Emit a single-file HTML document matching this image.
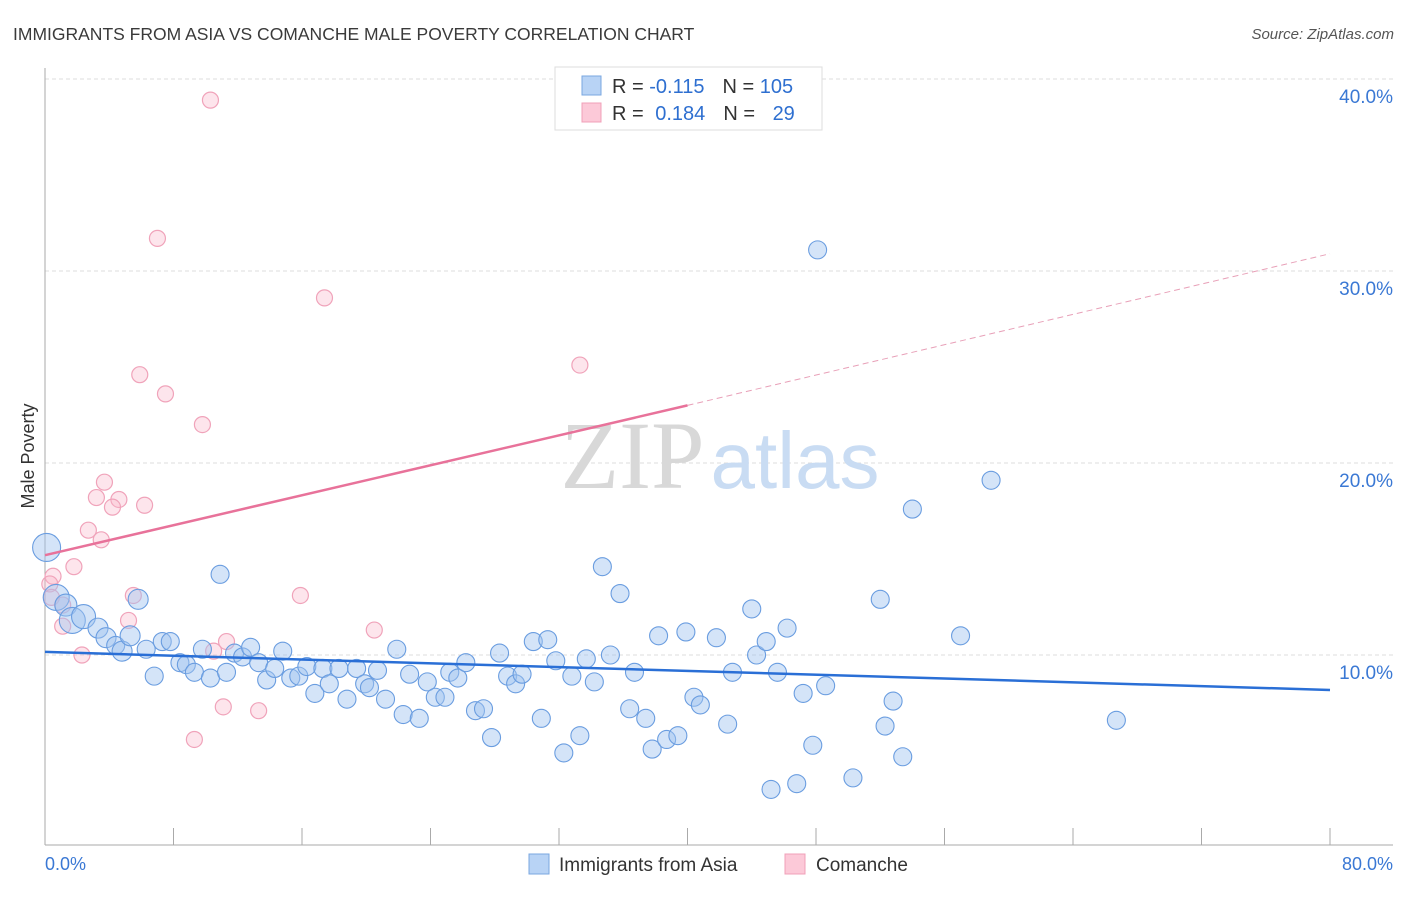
<!DOCTYPE html>
<html><head><meta charset="utf-8"><style>
body{margin:0;background:#fff;font-family:"Liberation Sans",sans-serif}
svg text{font-family:"Liberation Sans",sans-serif}
</style></head><body>
<svg id="chart" width="1406" height="892" viewBox="0 0 1406 892" xmlns="http://www.w3.org/2000/svg">
<text x="13" y="40" font-size="17.5" fill="#3a3a3a">IMMIGRANTS FROM ASIA VS COMANCHE MALE POVERTY CORRELATION CHART</text>
<text x="1394" y="39" font-size="15" fill="#555" text-anchor="end" font-style="italic">Source: ZipAtlas.com</text>
<g id="grid"></g>
<text x="720" y="488" font-size="96" text-anchor="middle"><tspan fill="#d8d8d8" font-family="Liberation Serif">ZIP</tspan><tspan fill="#c9dcf3" font-size="80" dx="6">atlas</tspan></text>
<g id="axes"></g>
<g id="pinkPts"></g>
<g id="bluePts"></g>
<g id="trends"></g>
<text transform="translate(34,456) rotate(-90)" font-size="18" fill="#333" text-anchor="middle">Male Poverty</text>
<g>
<rect x="555" y="67" width="267" height="63" fill="#fff" stroke="#ddd"/>
<rect x="582" y="76" width="19" height="19" fill="#b8d3f5" stroke="#7aa7e0"/>
<rect x="582" y="103" width="19" height="19" fill="#fcc9d8" stroke="#f0a0b8"/>
<text x="612" y="93" font-size="20" fill="#333">R = <tspan fill="#2e6fd0">-0.115</tspan><tspan dx="18">N = </tspan><tspan fill="#2e6fd0">105</tspan></text>
<text x="612" y="120" font-size="20" fill="#333">R = <tspan fill="#2e6fd0" dx="6">0.184</tspan><tspan dx="18">N = </tspan><tspan fill="#2e6fd0" dx="12">29</tspan></text>
</g>
<g>
<rect x="529" y="854" width="20" height="20" fill="#b8d3f5" stroke="#7aa7e0"/>
<text x="559" y="871" font-size="19" fill="#333">Immigrants from Asia</text>
<rect x="785" y="854" width="20" height="20" fill="#fcc9d8" stroke="#f0a0b8"/>
<text x="816" y="871" font-size="19" fill="#333">Comanche</text>
</g>
</svg>
<script>
const xTicks=[0,8,16,24,32,40,48,56,64,72,80];
const yTicks=[10,20,30,40];
const yTickLabels=["10.0%","20.0%","30.0%","40.0%"];
const xEndLabels=["0.0%","80.0%"];
const blueX=[0.1,0.7,1.3,1.7,2.4,3.3,3.8,4.4,4.8,5.3,5.8,6.3,6.8,7.3,7.8,8.4,8.8,9.3,9.8,10.3,10.9,11.3,11.8,12.3,12.8,13.3,13.8,14.3,14.8,15.3,15.8,16.3,16.8,17.3,17.7,18.3,18.8,19.4,19.9,20.2,20.7,21.2,21.9,22.3,22.7,23.3,23.8,24.3,24.9,25.2,25.7,26.2,26.8,27.3,27.8,28.3,28.8,29.3,29.7,30.4,30.9,31.3,31.8,32.3,32.8,33.3,33.7,34.2,34.7,35.2,35.8,36.4,36.7,37.4,37.8,38.2,38.7,39.4,39.9,40.4,40.8,41.8,42.5,42.8,44.0,44.3,44.9,45.2,45.6,46.2,46.8,47.2,47.8,48.1,48.6,50.3,52.0,52.3,52.8,53.4,54.0,57.0,58.9,66.7];
const blueY=[15.6,13.0,12.6,11.8,12.0,11.4,10.9,10.5,10.2,11.0,12.9,10.3,8.9,10.7,10.7,9.6,9.5,9.1,10.3,8.8,14.2,9.1,10.1,9.9,10.4,9.6,8.7,9.3,10.2,8.8,8.9,9.4,8.0,9.3,8.5,9.3,7.7,9.3,8.5,8.3,9.2,7.7,10.3,6.9,9.0,6.7,8.6,7.8,7.8,9.1,8.8,9.6,7.1,7.2,5.7,10.1,8.9,8.5,9.0,10.7,6.7,10.8,9.7,4.9,8.9,5.8,9.8,8.6,14.6,10.0,13.2,7.2,9.1,6.7,5.1,11.0,5.6,5.8,11.2,7.8,7.4,10.9,6.4,9.1,12.4,10.0,10.7,3.0,9.1,11.4,3.3,8.0,5.3,31.1,8.4,3.6,12.9,6.3,7.6,4.7,17.6,11.0,19.1,6.6];
const blueSize=[14,13,11,13,12,10,10,9,10,10,10];
const pinkX=[10.3,7.0,17.4,33.3,5.9,7.5,9.8,3.7,3.2,4.6,4.2,6.2,2.7,3.5,1.8,0.5,0.3,0.4,1.1,5.5,15.9,5.2,1.1,20.5,2.3,11.3,10.5,11.1,13.3,9.3];
const pinkY=[38.9,31.7,28.6,25.1,24.6,23.6,22.0,19.0,18.2,18.1,17.7,17.8,16.5,16.0,14.6,14.1,13.7,13.0,12.6,13.1,13.1,11.8,11.5,11.3,10.0,10.7,10.2,7.3,7.1,5.6];
const blueTrend=[[0,10.16],[80,8.18]];
const pinkTrend=[[0,15.2],[40,23.0],[80,30.9]];
const NS="http://www.w3.org/2000/svg";
const X0=45,X1=1330,Y0=847,PY=19.2;
function sx(v){return X0+(X1-X0)*v/80;}
function sy(v){return Y0-v*PY;}
function mk(tag,attrs,parent){const e=document.createElementNS(NS,tag);for(const k in attrs)e.setAttribute(k,attrs[k]);parent.appendChild(e);return e;}
const grid=document.getElementById('grid'),axes=document.getElementById('axes');
yTicks.forEach((t,i)=>{
 const l=mk('line',{x1:X0,x2:1393,y1:sy(t),y2:sy(t),stroke:'#ddd','stroke-dasharray':'4,3'},grid);
 
 
 const tx=mk('text',{x:1393,y:sy(t)+24,'font-size':19,fill:'#3a78d4','text-anchor':'end'},axes);
 tx.textContent=yTickLabels[i];
 
 
});
mk('line',{x1:X0,x2:X0,y1:68,y2:845,stroke:'#aaa'},axes);
mk('line',{x1:X0,x2:1393,y1:845,y2:845,stroke:'#aaa'},axes);
xTicks.forEach(t=>{const l=mk('line',{x1:sx(t),x2:sx(t),y1:828,y2:845,stroke:'#aaa'},axes);
 
 });
const xl0=mk('text',{x:45,y:870,'font-size':18,fill:'#3a78d4'},axes);xl0.textContent=xEndLabels[0];


const xl1=mk('text',{x:1393,y:870,'font-size':18,fill:'#3a78d4','text-anchor':'end'},axes);xl1.textContent=xEndLabels[1];


const pg=document.getElementById('pinkPts');
pinkX.forEach((v,i)=>{const c=mk('circle',{cx:sx(v),cy:sy(pinkY[i]),r:8,fill:'rgba(248,180,200,0.35)',stroke:'#f0a3ba','stroke-width':1.2},pg);
 
 });
const bg=document.getElementById('bluePts');
blueX.forEach((v,i)=>{const c=mk('circle',{cx:sx(v),cy:sy(blueY[i]),r:blueSize[i]||9,fill:'rgba(160,196,240,0.45)',stroke:'#6a9de0','stroke-width':1.1},bg);
 
 });
const tg=document.getElementById('trends');
const bl=mk('line',{x1:sx(blueTrend[0][0]),y1:sy(blueTrend[0][1]),x2:sx(blueTrend[1][0]),y2:sy(blueTrend[1][1]),stroke:'#2a6fd6','stroke-width':2.5},tg);


const pl=mk('line',{x1:sx(pinkTrend[0][0]),y1:sy(pinkTrend[0][1]),x2:sx(pinkTrend[1][0]),y2:sy(pinkTrend[1][1]),stroke:'#e8729a','stroke-width':2.5},tg);


const pd=mk('line',{x1:sx(pinkTrend[1][0]),y1:sy(pinkTrend[1][1]),x2:sx(pinkTrend[2][0]),y2:sy(pinkTrend[2][1]),stroke:'#e8a0b8','stroke-width':1,'stroke-dasharray':'6,4'},tg);


</script>
</body></html>
